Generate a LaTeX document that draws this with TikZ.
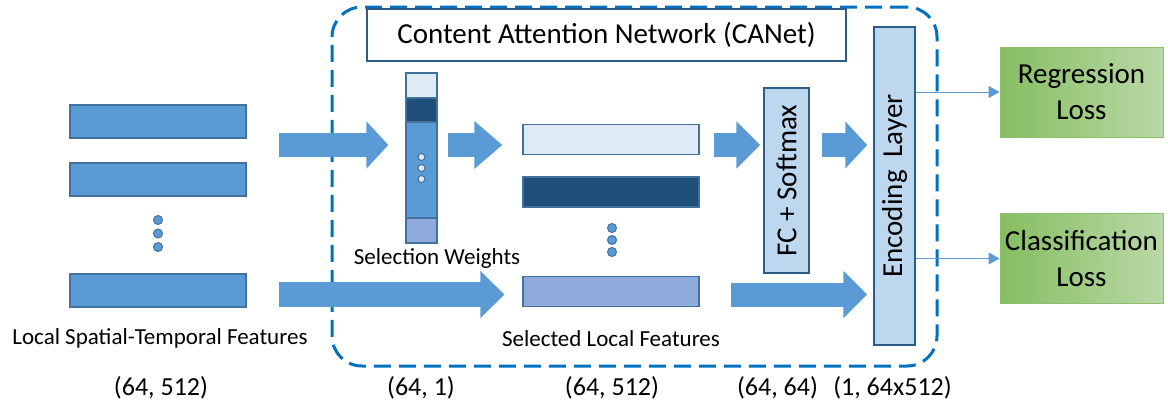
\documentclass[tikz,border=0pt]{standalone}
\usepackage{fontspec}
\setmainfont{Carlito}
\usetikzlibrary{arrows.meta, positioning, calc}
\definecolor{cmid}{HTML}{5B9BD5}
\definecolor{cedge}{HTML}{41719C}
\definecolor{clight}{HTML}{DEEBF7}
\definecolor{cdark}{HTML}{1F4E79}
\definecolor{cviolet}{HTML}{8FAADC}
\definecolor{cpale}{HTML}{BDD7EE}
\definecolor{cframe}{HTML}{2F5C86}
\definecolor{cdash}{HTML}{0070C0}
\definecolor{cgreenL}{HTML}{86BE62}
\definecolor{cgreenR}{HTML}{B9D8A6}
\definecolor{cgreenE}{HTML}{8CC06C}
\tikzset{
  every picture/.style={x=1pt, y=-1pt},
  big/.style={font=\fontsize{29}{36}\selectfont},
  note/.style={font=\fontsize{23}{28}\selectfont, anchor=base, inner sep=0pt},
  dims/.style={note, font=\fontsize{26}{31}\selectfont},
  feat/.style={draw=cedge, fill=#1, line width=1.2pt, minimum width=176pt, minimum height=30pt, inner sep=0pt},
  feat/.default=cmid,
  weight/.style={draw=cedge, fill=#1, line width=1.2pt, minimum width=31pt, inner sep=0pt},
  dot/.style={circle, draw=cedge, fill=#1, line width=1pt, minimum size=9pt, inner sep=0pt},
  dot/.default=cmid,
  layer/.style={big, draw=cframe, fill=cpale, line width=1.5pt, rotate=90, inner sep=0pt},
  lossbox/.style={big, draw=cgreenE, left color=cgreenL, right color=cgreenR, line width=1pt,
    minimum width=163pt, minimum height=90pt, align=center, inner sep=0pt},
  blockarrow/.style={draw=cmid, line width=24pt, -{Triangle[length=#1, width=46pt]}},
  blockarrow/.default=24pt,
  thinarrow/.style={draw=cmid, line width=1pt, -{Triangle[length=11pt, width=12pt]}},
}
\begin{document}
\begin{tikzpicture}
  \useasboundingbox (0,0) rectangle (1168,405);
  % the CANet frame and its title
  \node[draw=cdash, line width=3pt, dash pattern=on 17pt off 8pt, rounded corners=30pt,
    minimum width=605pt, minimum height=359pt] (canet) at (634.5,186.5) {};
  \node[big, draw=cframe, fill=white, line width=2pt, minimum width=479pt, minimum height=52pt] (title) at (606.5,35) {Content Attention Network (CANet)};
  % local spatial-temporal features
  \foreach \n/\y in {1/121.5, 2/179.5, 4/290.5} \node[feat, minimum height=33pt] (lbar\n) at (158,\y) {};
  \foreach \y in {220, 233.5, 247} \node[dot] at (158,\y) {};
  \node[note] (lnote) at (160,344) {Local Spatial-Temporal Features};
  % selection weights
  \node[weight, fill=clight, minimum height=25pt] (sw1) at (421.5,85.5) {};
  \node[weight, fill=cdark, minimum height=24pt] (sw2) at (421.5,110) {};
  \node[weight, fill=cmid, minimum height=96pt] (sw3) at (421.5,170) {};
  \node[weight, fill=cviolet, minimum height=25pt] (sw4) at (421.5,230.5) {};
  \foreach \y in {157, 168, 179} \node[dot=clight, minimum size=7pt] at (421.5,\y) {};
  \node[note] (swnote) at (437,264) {Selection Weights};
  % selected local features
  \node[feat=clight] (sel1) at (611,139.5) {};
  \node[feat=cdark] (sel2) at (611,192) {};
  \node[feat=cviolet] (sel4) at (611,291.5) {};
  \foreach \y in {228, 240, 252} \node[dot] at (612,\y) {};
  \node[note] (selnote) at (611,346) {Selected Local Features};
  % fc and encoding layers (rotated: north is the left side)
  \node[layer, minimum width=185pt, minimum height=45pt] (fc) at (786.5,180.5) {FC + Softmax};
  \node[layer, minimum width=318pt, minimum height=41pt] (enc) at (894.5,186) {Encoding\ \ Layer};
  % losses
  \node[lossbox] (reg) at (1081.5,92) {Regression\\Loss};
  \node[lossbox] (cls) at (1081.5,258.5) {Classification\\Loss};
  % block arrows
  \coordinate (upper) at (0,145);
  \coordinate (lower) at (0,294.5);
  \draw[blockarrow=22pt] ($(lbar1.east|-upper)+(32,0)$) -- ($(sw3.west|-upper)+(-17,0)$);
  \draw[blockarrow=28pt] ($(sw3.east|-upper)+(10,0)$) -- ($(sel1.west|-upper)+(-20,0)$);
  \draw[blockarrow] ($(sel1.east|-upper)+(14,0)$) -- ($(fc.north|-upper)+(-3,0)$);
  \draw[blockarrow=22pt] ($(fc.south|-upper)+(12,0)$) -- ($(enc.north|-upper)+(-6,0)$);
  \draw[blockarrow, line width=25pt] ($(lbar4.east|-lower)+(32,0)$) -- ($(sel4.west|-lower)+(-18,0)$);
  \draw[blockarrow] ($(sel4.east|-lower)+(31,0)$) -- ($(enc.north|-lower)+(-6,0)$);
  % outputs
  \draw[thinarrow] (enc.south|-reg.west) -- (reg.west);
  \draw[thinarrow] (enc.south|-cls.west) -- (cls.west);
  % shapes
  \foreach \x/\s in {161/{(64, 512)}, 421/{(64, 1)}, 612/{(64, 512)}, 777.5/{(64, 64)}, 892.5/{(1, 64x512)}}
    \node[dims] at (\x,395) {\s};
\end{tikzpicture}
\end{document}
